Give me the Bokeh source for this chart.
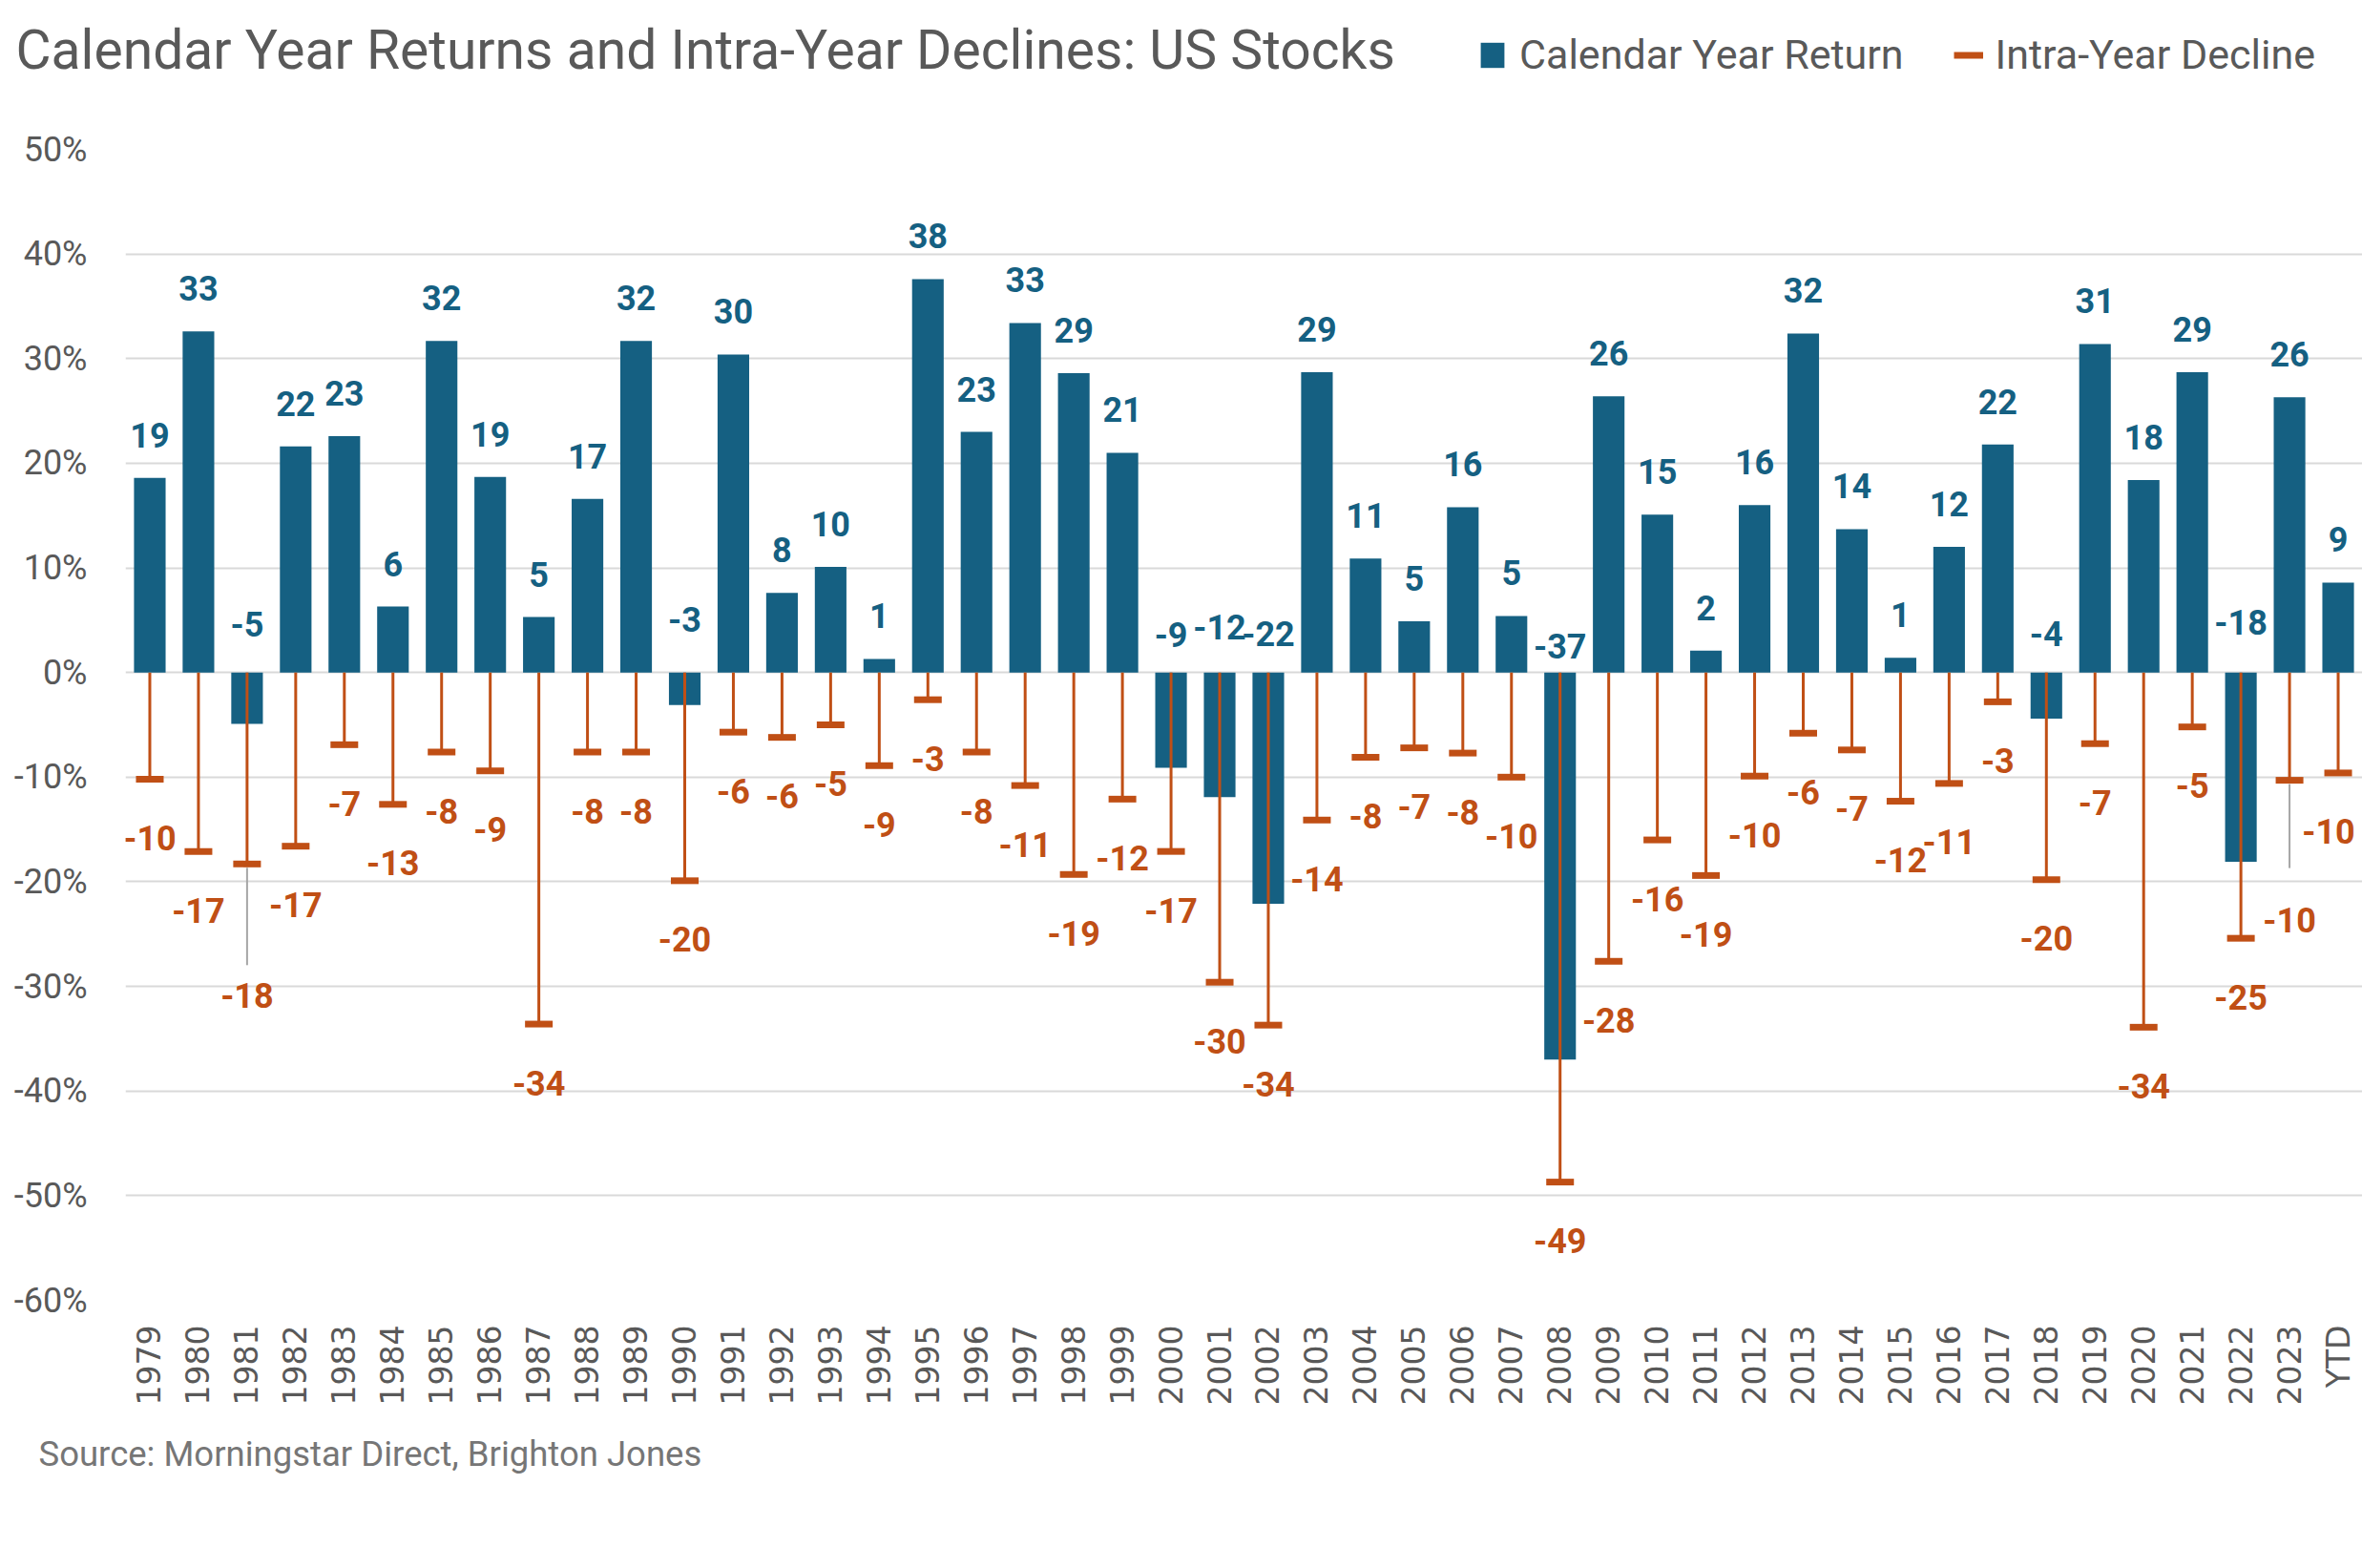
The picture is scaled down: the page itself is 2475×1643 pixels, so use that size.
import math
from bokeh.plotting import figure
from bokeh.layouts import column
from bokeh.models import (FactorRange, Range1d, FixedTicker, CustomJSTickFormatter,
                          Label, Legend, LegendItem, ColumnDataSource)
from bokeh.embed import file_html
from bokeh.resources import INLINE
from bokeh.core.properties import value

# ---------------- data ----------------
years = ["1979", "1980", "1981", "1982", "1983", "1984", "1985", "1986", "1987", "1988",
         "1989", "1990", "1991", "1992", "1993", "1994", "1995", "1996", "1997", "1998",
         "1999", "2000", "2001", "2002", "2003", "2004", "2005", "2006", "2007", "2008",
         "2009", "2010", "2011", "2012", "2013", "2014", "2015", "2016", "2017", "2018",
         "2019", "2020", "2021", "2022", "2023", "YTD"]

calendar_year_return = [18.6, 32.6, -4.9, 21.6, 22.6, 6.3, 31.7, 18.7, 5.3, 16.6,
                        31.7, -3.1, 30.4, 7.6, 10.1, 1.3, 37.6, 23.0, 33.4, 28.6,
                        21.0, -9.1, -11.9, -22.1, 28.7, 10.9, 4.9, 15.8, 5.4, -37.0,
                        26.4, 15.1, 2.1, 16.0, 32.4, 13.7, 1.4, 12.0, 21.8, -4.4,
                        31.4, 18.4, 28.7, -18.1, 26.3, 8.6]

intra_year_decline = [-10.2, -17.1, -18.3, -16.6, -6.9, -12.6, -7.6, -9.4, -33.6, -7.6,
                      -7.6, -19.9, -5.7, -6.2, -5.0, -8.9, -2.6, -7.6, -10.8, -19.3,
                      -12.1, -17.1, -29.6, -33.7, -14.1, -8.1, -7.2, -7.7, -10.0, -48.7,
                      -27.6, -16.0, -19.4, -9.9, -5.8, -7.4, -12.3, -10.6, -2.8, -19.8,
                      -6.8, -33.9, -5.2, -25.4, -10.3, -9.6]

y_ticks = [-60, -50, -40, -30, -20, -10, 0, 10, 20, 30, 40, 50]

title_text = "Calendar Year Returns and Intra-Year Declines: US Stocks"
source_text = "Source: Morningstar Direct, Brighton Jones"
legend_labels = ["Calendar Year Return", "Intra-Year Decline"]

# ---------------- layout / style ----------------
W, H = 2475, 1643
HEAD_H, FOOT_H = 100, 150
MAIN_H = H - HEAD_H - FOOT_H
LEFT = 131
TOP = 156 - HEAD_H
BOTTOM = 281 - FOOT_H
Y_MIN, Y_MAX = -60, 50
FRAME_H = MAIN_H - TOP - BOTTOM
PPU = FRAME_H / (Y_MAX - Y_MIN)          # pixels per percentage point

BLUE = "#156082"
ORANGE = "#C04F15"
GREY = "#595959"
GRID = "#D9D9D9"
LEADER = "#A6A6A6"

POS_LABEL_RISE = 45
NEG_LABEL_RISE = {"1981": 51, "1990": 56, "2000": 40, "2001": 48, "2002": 41,
                  "2008": 28, "2018": 41, "2022": 53}
DECL_LABEL_DROP = 61.5
DECL_LABEL_ADJUST = {"1981": (0, 138), "2023": (0, 146), "YTD": (-10, 61.5)}
LEADER_LEN = {"1981": 106, "2023": 92}


def no_frame_align(fig):
    try:
        fig.frame_align = False
    except Exception:
        pass


def blank_strip(height):
    f = figure(width=W, height=height, x_range=Range1d(0, W), y_range=Range1d(height, 0),
               x_axis_type=None, y_axis_type=None, title=None,
               output_backend="svg", toolbar_location=None,
               min_border=0, min_border_left=0, min_border_right=0,
               min_border_top=0, min_border_bottom=0)
    f.outline_line_color = None
    f.grid.visible = False
    f.background_fill_color = "white"
    f.border_fill_color = "white"
    no_frame_align(f)
    return f


# ---------------- header (title + legend) ----------------
head = blank_strip(HEAD_H)
head.add_layout(Label(x=16, y=52, text=title_text, text_font="Roboto",
                      text_font_size="57px", text_color=GREY,
                      text_align="left", text_baseline="middle"))
# legend proxies (hidden renderers: only their legend swatches are shown)
leg_bar = head.vbar(x=[0], top=[1], width=1, fill_color=BLUE, line_color=None, visible=False)
leg_line = head.line(x=[0, 1], y=[0, 0], line_color=ORANGE, line_width=7, visible=False)
legend = Legend(items=[LegendItem(label=legend_labels[0], renderers=[leg_bar]),
                       LegendItem(label=legend_labels[1], renderers=[leg_line])],
                orientation="horizontal", location=(1548, HEAD_H - 82),
                label_text_font="Roboto", label_text_font_size="43px",
                label_text_color=GREY, glyph_width=31, glyph_height=33,
                label_standoff=13, spacing=52, padding=0, margin=0,
                border_line_color=None, background_fill_alpha=0,
                inactive_fill_alpha=0)
head.add_layout(legend)

# ---------------- main chart ----------------
p = figure(width=W, height=MAIN_H,
           x_range=FactorRange(factors=years, range_padding=0),
           y_range=Range1d(Y_MIN, Y_MAX), title=None,
           output_backend="svg", toolbar_location=None,
           min_border_left=LEFT, min_border_right=0,
           min_border_top=TOP, min_border_bottom=BOTTOM)
p.outline_line_color = None
p.background_fill_color = "white"
p.border_fill_color = "white"
no_frame_align(p)

bars = p.vbar(x=years, top=calendar_year_return, width=0.65,
              fill_color=BLUE, line_color=None)

p.segment(x0=years, y0=[0] * len(years), x1=years, y1=intra_year_decline,
          line_color=ORANGE, line_width=3)
p.rect(x=years, y=intra_year_decline, width=29, height=7,
       width_units="screen", height_units="screen",
       fill_color=ORANGE, line_color=None)

lead_x = [y for y in years if y in LEADER_LEN]
lead_y0 = [intra_year_decline[years.index(y)] - 4 / PPU for y in lead_x]
lead_y1 = [intra_year_decline[years.index(y)] - LEADER_LEN[y] / PPU for y in lead_x]
p.segment(x0=lead_x, y0=lead_y0, x1=lead_x, y1=lead_y1,
          line_color=LEADER, line_width=2)

ret_src = ColumnDataSource(dict(
    x=years,
    y=[max(v, 0) for v in calendar_year_return],
    text=[f"{v:.0f}" for v in calendar_year_return],
    yoff=[-(POS_LABEL_RISE if v >= 0 else NEG_LABEL_RISE.get(yr, 45))
          for yr, v in zip(years, calendar_year_return)],
))
p.text(x="x", y="y", text="text", y_offset="yoff", source=ret_src,
       text_font=value("Roboto"), text_font_style="bold", text_font_size="36px",
       text_color=BLUE, text_align="center", text_baseline="middle")

dec_src = ColumnDataSource(dict(
    x=years,
    y=intra_year_decline,
    text=[f"{v:.0f}" for v in intra_year_decline],
    xoff=[DECL_LABEL_ADJUST.get(yr, (0, DECL_LABEL_DROP))[0] for yr in years],
    yoff=[DECL_LABEL_ADJUST.get(yr, (0, DECL_LABEL_DROP))[1] for yr in years],
))
p.text(x="x", y="y", text="text", x_offset="xoff", y_offset="yoff", source=dec_src,
       text_font=value("Roboto"), text_font_style="bold", text_font_size="36px",
       text_color=ORANGE, text_align="center", text_baseline="middle")

p.xaxis.major_label_orientation = math.pi / 2
p.xaxis.major_label_text_font = "DejaVu Sans"
p.xaxis.major_label_text_font_size = "33px"
p.xaxis.major_label_text_color = GREY
p.xaxis.axis_line_color = None
p.xaxis.major_tick_line_color = None
p.xaxis.minor_tick_line_color = None
p.xaxis.major_tick_out = 0
p.xaxis.major_label_standoff = 26

p.yaxis.ticker = FixedTicker(ticks=y_ticks)
p.yaxis.formatter = CustomJSTickFormatter(code="return tick + '%';")
p.yaxis.major_label_text_font = "Roboto"
p.yaxis.major_label_text_font_size = "36px"
p.yaxis.major_label_text_color = GREY
p.yaxis.axis_line_color = None
p.yaxis.major_tick_line_color = None
p.yaxis.minor_tick_line_color = None
p.yaxis.major_tick_out = 0
p.yaxis.major_label_standoff = 40

p.xgrid.grid_line_color = None
p.ygrid.grid_line_color = GRID
p.ygrid.grid_line_width = 2

# ---------------- footer (source) ----------------
foot = blank_strip(FOOT_H)
foot.add_layout(Label(x=40, y=1523 - (H - FOOT_H), text=source_text, text_font="Roboto",
                      text_font_size="36.5px", text_color="#767676",
                      text_align="left", text_baseline="middle"))

layout = column(head, p, foot, spacing=0)
open("out.html", "w").write(file_html(layout, INLINE))
